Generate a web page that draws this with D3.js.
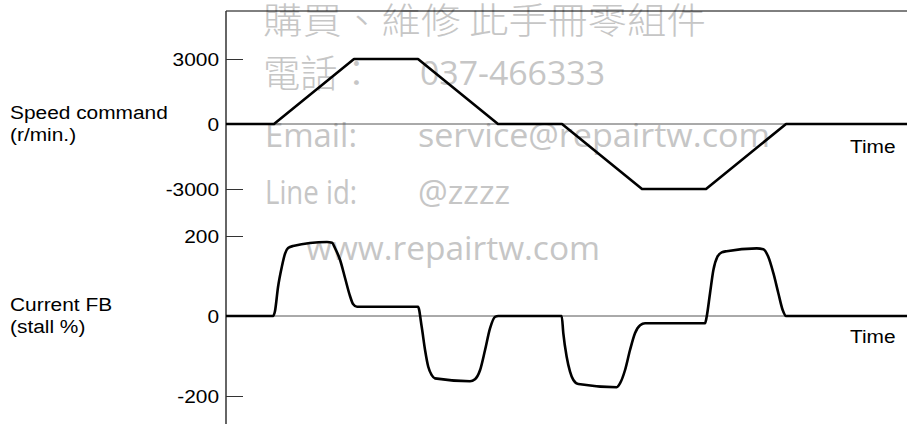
<!DOCTYPE html>
<html>
<head>
<meta charset="utf-8">
<script src="https://cdn.jsdelivr.net/npm/d3@7"></script>
<style>
  body { margin: 0; background: #fff; }
  svg text { font-family: "Liberation Sans", Arial, sans-serif; }
</style>
</head>
<body>
<div id="chart"></div>
<script>
// time unit is arbitrary, the reference shows no time scale
const timeEnd = 42.56;

const speedTimes  = [0, 3, 8, 12, 17, 21, 26, 30, 35, 42.56];
const speedValues = [0, 0, 3000, 3000, 0, 0, -3000, -3000, 0, 0];

const currentTimes = [0, 2.94, 3.06, 3.25, 3.5, 3.69, 3.88, 4.19, 6.31, 6.63, 6.81, 7.13, 7.44, 7.75, 7.94, 8.19,
  12.0, 12.23, 12.44, 12.64, 12.86, 13.06, 15.25, 15.56, 15.88, 16.19, 16.5, 16.81, 17.02,
  20.98, 21.08, 21.29, 21.5, 21.71, 22.02, 24.42, 24.63, 24.94, 25.25, 25.56, 25.88, 26.19,
  29.94, 30.04, 30.25, 30.46, 30.71, 30.98, 31.29, 33.17, 33.58, 33.89, 34.21, 34.52, 34.79, 35.0, 42.56];
const currentValues = [0, 0, 12, 72, 125, 156, 170, 175, 185, 183, 170, 140, 95, 50, 30, 23,
  23, -27, -85, -127, -148, -156, -163, -158, -135, -85, -31, -2, 0,
  0, -43, -102, -139, -160, -170, -178, -168, -135, -85, -43, -23, -18,
  -18, -2, 57, 115, 148, 159, 162, 169, 167, 148, 107, 57, 15, 0, 0];

const speedTicks = [-3000, 0, 3000];
const currentTicks = [-200, 0, 200];
const speedLabel = ['Speed command', '(r/min.)'];
const currentLabel = ['Current FB', '(stall %)'];
const timeLabel = 'Time';

const width = 907, height = 424;
const axisX = 226, topY = 11;

const svg = d3.select('#chart')
  .append('svg')
  .attr('width', width)
  .attr('height', height);

svg.append('rect').attr('width', width).attr('height', height).attr('fill', '#fff');

// watermark, drawn under the chart
const wm = svg.append('g').attr('fill', '#c6c6c6');
const cjk = '"Noto Sans CJK TC", "Noto Sans CJK SC", sans-serif';
const latin = '"Open Sans", "DejaVu Sans", sans-serif';
[
  { t: '購買、維修 此手冊零組件', x: 263, y: 34, len: 443, f: cjk, s: 36, w: 300 },
  { t: '電話：', x: 263, y: 87, len: 112, f: cjk, s: 38, w: 300 },
  { t: '037-466333', x: 420, y: 85, len: 185, f: latin, s: 32, w: 400 },
  { t: 'Email:', x: 265, y: 147, len: 92, f: latin, s: 32, w: 400 },
  { t: 'service@repairtw.com', x: 418, y: 147, len: 352, f: latin, s: 32, w: 400 },
  { t: 'Line id:', x: 265, y: 204, len: 92, f: latin, s: 32, w: 400 },
  { t: '@zzzz', x: 418, y: 204, len: 92, f: latin, s: 32, w: 400 },
  { t: 'www.repairtw.com', x: 306, y: 260, len: 294, f: latin, s: 32, w: 400 }
].forEach(d => {
  wm.append('text')
    .attr('x', d.x).attr('y', d.y)
    .attr('textLength', d.len)
    .attr('lengthAdjust', 'spacingAndGlyphs')
    .style('font-family', d.f)
    .style('font-size', d.s + 'px')
    .style('font-weight', d.w)
    .text(d.t);
});

let x = d3.scaleLinear().domain([0, timeEnd]).range([axisX, width]);
let ySpeed = d3.scaleLinear().domain([-3000, 3000]).range([189, 59]);
let yCurrent = d3.scaleLinear().domain([-200, 200]).range([396, 236]);

// frame: top rule and the shared vertical axis
svg.append('line')
  .attr('x1', axisX).attr('x2', width)
  .attr('y1', topY).attr('y2', topY)
  .attr('stroke', '#000').attr('stroke-width', 1);
svg.append('line')
  .attr('x1', axisX).attr('x2', axisX)
  .attr('y1', topY).attr('y2', height)
  .attr('stroke', '#333').attr('stroke-width', 1.5);

function drawPanel(y, ticks, times, values, curve, label, labelY, timeY) {
  let axis = d3.axisLeft(y)
    .tickValues(ticks)
    .tickFormat(d => String(d))
    .tickSizeInner(-17)
    .tickSizeOuter(0)
    .tickPadding(6);
  let g = svg.append('g')
    .attr('transform', `translate(${axisX},0)`)
    .call(axis);
  g.select('.domain').remove();
  g.selectAll('.tick line').attr('stroke', '#333');
  g.selectAll('.tick text')
    .attr('fill', '#000')
    .attr('dy', '0.38em')
    .style('font-size', '18px')
    .attr('transform', 'scale(1.16,1)');

  // zero line
  svg.append('line')
    .attr('x1', axisX).attr('x2', width)
    .attr('y1', y(0)).attr('y2', y(0))
    .attr('stroke', '#555').attr('stroke-width', 1);

  let line = d3.line()
    .x((d, i) => x(times[i]))
    .y(d => y(d))
    .curve(curve);
  svg.append('path')
    .datum(values)
    .attr('fill', 'none')
    .attr('stroke', '#000')
    .attr('stroke-width', 2.6)
    .attr('stroke-linejoin', 'round')
    .attr('d', line);

  label.forEach((t, i) => {
    svg.append('text')
      .attr('transform', `translate(10,${labelY + i * 21.5}) scale(1.16,1)`)
      .style('font-size', '18px')
      .text(t);
  });
  svg.append('text')
    .attr('transform', `translate(850,${timeY}) scale(1.16,1)`)
    .style('font-size', '18px')
    .text(timeLabel);
}

// speed command is piecewise linear, current feedback is smooth
drawPanel(ySpeed, speedTicks, speedTimes, speedValues, d3.curveLinear, speedLabel, 119, 153);
drawPanel(yCurrent, currentTicks, currentTimes, currentValues, d3.curveMonotoneX, currentLabel, 311, 343);
</script>
</body>
</html>
